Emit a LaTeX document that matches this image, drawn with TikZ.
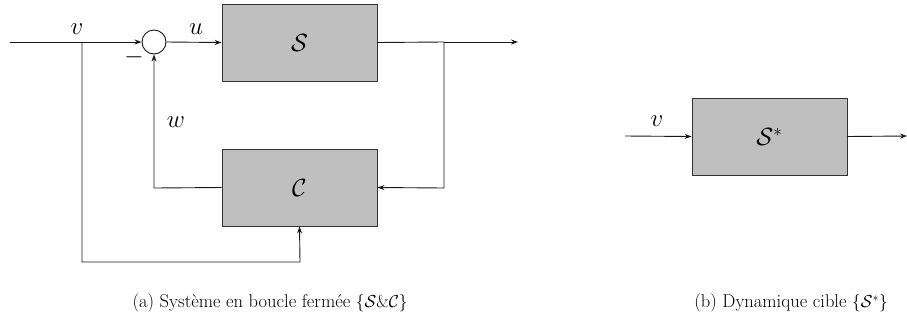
\documentclass[tikz,border=0pt]{standalone}
\usetikzlibrary{arrows.meta}
\begin{document}
\begin{tikzpicture}[x=1pt,y=-1pt,
  blk/.style={draw=black!80,fill=black!25,line width=0.9pt,minimum width=155pt,minimum height=77pt,inner sep=0pt},
  wire/.style={draw=black!90,line width=0.9pt},
  arr/.style={wire,-{Stealth[length=7pt,width=5pt]}},
  lbl/.style={font=\fontsize{23}{27}\selectfont},
  captxt/.style={font=\fontsize{18.5}{22}\selectfont}]
\useasboundingbox (0,0) rectangle (907,327);
% left diagram
\node[blk] (S) at (299.5,42.5) {\fontsize{23}{27}\selectfont$\mathcal{S}$};
\node[blk] (C) at (299.5,187.5) {\fontsize{23}{27}\selectfont$\mathcal{C}$};
\node[draw=black!90,fill=white,circle,minimum size=24pt,inner sep=0pt,line width=0.9pt] (sum) at (154,42) {};
\coordinate (in) at (10,42);
\coordinate (b1) at (82,42);
\coordinate (b1d) at (82,262);
\coordinate (b1r) at (300,262);
\coordinate (b2) at (444,42);
\coordinate (b2d) at (444,188);
\coordinate (out) at (518,42);
\coordinate (wl) at (154,188);
\draw[wire] (in) -- (b1);
\draw[arr] (b1) -- (sum.west);
\draw[arr] (sum.east) -- (S.west);
\draw[wire] (S.east) -- (b2);
\draw[arr] (b2) -- (out);
\draw[arr] (b2) -- (b2d) -- (C.east);
\draw[arr] (C.west) -- (wl) -- (sum.south);
\draw[arr] (b1) -- (b1d) -- (b1r) -- (C.south);
\node[lbl] (v1) at (77,29) {$v$};
\node[lbl] (u1) at (196,29) {$u$};
\node[lbl] (w1) at (176,122) {$w$};
\node[lbl] (m1) at (134,57) {$-$};
% right diagram
\node[blk] (Ss) at (769.5,136.5) {\fontsize{23}{27}\selectfont$\mathcal{S}^*$};
\coordinate (rin) at (625,136);
\coordinate (rout) at (907,136);
\draw[arr] (rin) -- (Ss.west);
\draw[arr] (Ss.east) -- (rout);
\node[lbl] (v2) at (657,121) {$v$};
% captions
\node[captxt] (ca) at (270,303) {(a) Système en boucle fermée $\{\mathcal{S}\&\mathcal{C}\}$};
\node[captxt] (cb) at (791,303) {(b) Dynamique cible $\{\mathcal{S}^*\}$};
\end{tikzpicture}
\end{document}
